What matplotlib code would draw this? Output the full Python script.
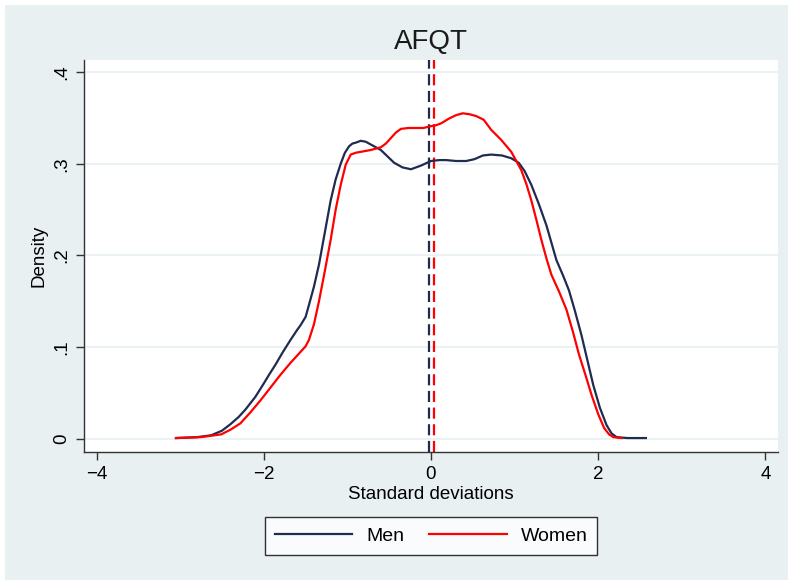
"""AFQT density by sex, Stata-style kernel density chart."""

import matplotlib
matplotlib.use("Agg")
import matplotlib.pyplot as plt
from matplotlib.patches import Rectangle

plt.rcParams["font.family"] = ["Liberation Sans", "DejaVu Sans"]

# ---- data ----------------------------------------------------------------
men_x = [-3.05, -2.80, -2.63, -2.50, -2.40, -2.30, -2.22, -2.10, -2.01, -1.93,
         -1.86, -1.77, -1.68, -1.60, -1.56, -1.50, -1.46, -1.40, -1.34, -1.27,
         -1.20, -1.14, -1.08, -1.03, -0.98, -0.94, -0.90, -0.84, -0.78, -0.70,
         -0.60, -0.52, -0.44, -0.34, -0.24, -0.12, 0.00, 0.10, 0.18, 0.30,
         0.42, 0.52, 0.62, 0.72, 0.85, 0.96, 1.05, 1.12, 1.20, 1.29,
         1.38, 1.44, 1.50, 1.58, 1.65, 1.72, 1.80, 1.87, 1.94, 2.02,
         2.10, 2.16, 2.22, 2.35, 2.57]
men_y = [0.001, 0.002, 0.004, 0.009, 0.016, 0.024, 0.032, 0.046, 0.059, 0.071,
         0.081, 0.095, 0.108, 0.119, 0.124, 0.133, 0.146, 0.166, 0.190, 0.225,
         0.260, 0.283, 0.300, 0.312, 0.319, 0.322, 0.323, 0.325, 0.324, 0.320,
         0.315, 0.308, 0.301, 0.296, 0.294, 0.298, 0.303, 0.304, 0.304, 0.303,
         0.303, 0.305, 0.309, 0.310, 0.309, 0.306, 0.301, 0.292, 0.277, 0.256,
         0.233, 0.214, 0.195, 0.178, 0.162, 0.140, 0.113, 0.086, 0.059, 0.034,
         0.015, 0.006, 0.002, 0.001, 0.001]

women_x = [-3.05, -2.75, -2.51, -2.40, -2.28, -2.16, -2.04, -1.92, -1.80, -1.68,
           -1.56, -1.50, -1.46, -1.40, -1.34, -1.27, -1.20, -1.14, -1.08, -1.02,
           -0.96, -0.90, -0.84, -0.72, -0.60, -0.54, -0.48, -0.42, -0.36, -0.27,
           -0.18, -0.09, 0.00, 0.06, 0.12, 0.21, 0.30, 0.38, 0.46, 0.54,
           0.63, 0.72, 0.84, 0.96, 1.08, 1.14, 1.20, 1.26, 1.32, 1.38,
           1.44, 1.53, 1.62, 1.70, 1.77, 1.85, 1.92, 2.00, 2.07, 2.13,
           2.18, 2.28]
women_y = [0.001, 0.002, 0.005, 0.010, 0.017, 0.029, 0.042, 0.056, 0.070, 0.083,
           0.095, 0.101, 0.108, 0.125, 0.150, 0.183, 0.217, 0.250, 0.277, 0.299,
           0.310, 0.312, 0.313, 0.315, 0.318, 0.322, 0.328, 0.334, 0.338, 0.339,
           0.339, 0.339, 0.341, 0.342, 0.344, 0.349, 0.353, 0.355, 0.354, 0.352,
           0.348, 0.337, 0.326, 0.313, 0.293, 0.278, 0.260, 0.239, 0.217, 0.197,
           0.179, 0.161, 0.141, 0.116, 0.092, 0.069, 0.048, 0.027, 0.012, 0.005,
           0.002, 0.001]

men_mean = -0.02
women_mean = 0.03

x_ticks = [-4, -2, 0, 2, 4]
y_ticks = [0, 0.1, 0.2, 0.3, 0.4]
y_tick_labels = ["0", ".1", ".2", ".3", ".4"]

NAVY = "#1f2b4f"
RED = "#ff0000"
BG = "#e8f0f2"

# ---- figure ---------------------------------------------------------------
W, H = 788, 580
fig = plt.figure(figsize=(W / 100, H / 100), dpi=100, facecolor="white")
fig.patches.append(Rectangle((5 / W, 0), 1 - 5 / W, 1 - 5 / H,
                             transform=fig.transFigure, facecolor=BG,
                             edgecolor="none", zorder=-10))

ax = fig.add_axes([84 / W, (H - 452) / H, (778 - 84) / W, (452 - 60) / H])
ax.set_facecolor("white")

ax.plot(men_x, men_y, color=NAVY, lw=1.6, label="Men", zorder=3)
ax.plot(women_x, women_y, color=RED, lw=1.6, label="Women", zorder=3)
ax.axvline(men_mean, color=NAVY, lw=1.6, ls=(0, (5, 2.5)), zorder=2)
ax.axvline(women_mean, color=RED, lw=1.6, ls=(0, (5, 2.5)), zorder=2)

ax.set_xlim(-4.15, 4.15)
ax.set_ylim(-0.0142, 0.4131)
ax.set_xticks(x_ticks)
ax.set_xticklabels([f"{t}".replace("-", "\u2212") for t in x_ticks])
ax.set_yticks(y_ticks)
ax.set_yticklabels(y_tick_labels, rotation=90, va="center")
ax.grid(axis="y", color=BG, lw=1.2, zorder=0)

for side in ("top", "right"):
    ax.spines[side].set_visible(False)
for side in ("left", "bottom"):
    ax.spines[side].set_color("#333333")
    ax.spines[side].set_linewidth(1.0)
ax.tick_params(direction="out", length=6, width=1.0, color="#333333",
               labelsize=13.5, pad=4)

ax.set_xlabel("Standard deviations", fontsize=13.5, labelpad=2)
ax.set_ylabel("Density", fontsize=13.5, labelpad=4)
ax.set_title("AFQT", fontsize=20, pad=8, color="#1a1a1a")

leg = fig.legend(loc="center", bbox_to_anchor=(431 / W, 1 - 536 / H), ncol=2,
                 fontsize=14, frameon=True, fancybox=False, edgecolor="black",
                 handlelength=4.0, handletextpad=0.7, columnspacing=1.3,
                 borderpad=0.5)
leg.get_frame().set_linewidth(1.0)

fig.savefig("out.png", dpi=100, facecolor=fig.get_facecolor())
